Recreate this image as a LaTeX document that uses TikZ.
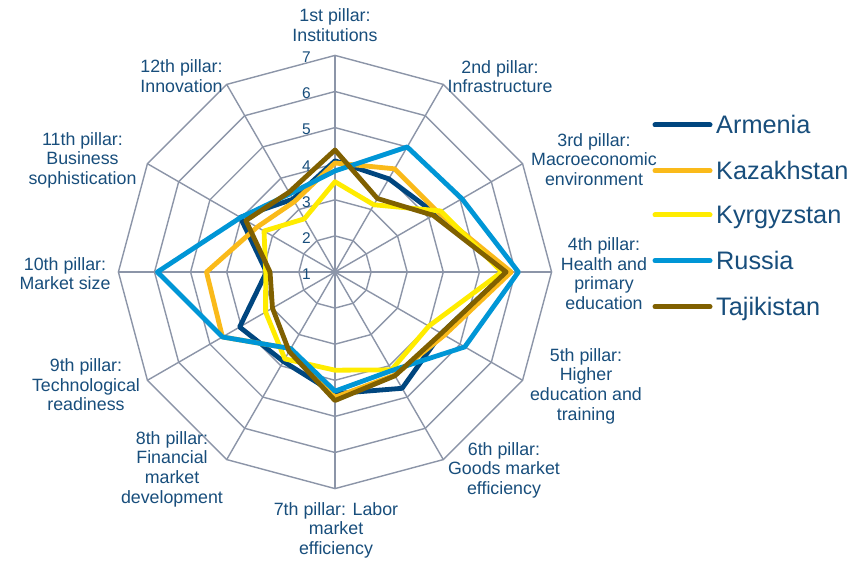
\documentclass[tikz,border=0pt]{standalone}
\usepackage{fontspec}
\setmainfont{Liberation Sans}
\definecolor{gridc}{RGB}{140,149,168}
\definecolor{txt}{RGB}{24,78,124}
\definecolor{armc}{RGB}{0,70,127}
\definecolor{kazc}{RGB}{250,186,26}
\definecolor{kyrc}{RGB}{255,236,0}
\definecolor{rusc}{RGB}{0,150,214}
\definecolor{tajc}{RGB}{128,96,0}
\tikzset{
  gridline/.style={draw=gridc, line width=1.4pt},
  series/.style={line width=4.8pt, line join=round, line cap=round},
  axlab/.style={text=txt, align=center, inner sep=0pt, font=\fontsize{17.8}{19.6}\selectfont},
  numlab/.style={text=txt, inner sep=0pt, font=\fontsize{15.5}{18}\selectfont, anchor=east},
  legtext/.style={text=txt, inner sep=0pt, font=\fontsize{25.3}{28}\selectfont, anchor=base west},
  legline/.style={line width=5pt, line cap=round},
}
\newcommand\radarplot[3]{%
  \foreach \v [count=\i from 0] in {#3}{%
    \coordinate (#1\i) at ({sin(\i*30)*(\v-1)*36.1},{-cos(\i*30)*(\v-1)*36.1});
  }
  \draw[series,#2] (#10) \foreach \i in {1,...,11}{ -- (#1\i)} -- cycle;
}
\begin{document}
\begin{tikzpicture}[x=1pt,y=-1pt]
\useasboundingbox (0,0) rectangle (864,561);
\fill[white] (0,0) rectangle (864,561);
\begin{scope}[shift={(335,272)}]
  % grid rings
  \foreach \r in {1,...,6}{
    \draw[gridline] (0,{-\r*36.1}) \foreach \k in {1,...,11}{ -- ({sin(\k*30)*\r*36.1},{-cos(\k*30)*\r*36.1}) } -- cycle;
  }
  % spokes
  \coordinate (ctr) at (0,0);
  \foreach \k in {0,...,11}{
    \coordinate (sp\k) at ({sin(\k*30)*216.6},{-cos(\k*30)*216.6});
    \draw[gridline] (ctr) -- (sp\k);
  }
  % series
  \radarplot{arm}{armc}{4.08,3.98,4.22,5.75,4.4,4.72,4.37,3.86,4.05,2.9,4.03,3.33}
  \radarplot{kaz}{kazc}{4.02,4.3,4.3,5.88,4.5,4.3,4.47,3.45,4.6,4.56,3.49,3.25}
  \radarplot{kyr}{kyrc}{3.5,3.15,4.38,5.62,4.0,4.13,3.72,3.78,3.22,2.92,3.27,2.7}
  \radarplot{rus}{rusc}{3.8,5.0,5.06,6.08,5.15,4.15,4.3,3.45,4.6,5.92,4.02,3.5}
  \radarplot{taj}{tajc}{4.38,3.35,4.14,5.74,4.4,4.32,4.56,3.54,3.0,2.8,3.85,3.55}
  % value labels
  \foreach \n in {1,...,7}{
    \node[numlab] (num\n) at (-24,{-(\n-1)*36.1+2}) {\n};
  }
\end{scope}
% axis labels
\node[axlab] (p1) at (335,25) {1st pillar:\\Institutions};
\node[axlab] (p2) at (500,76.5) {2nd pillar:\\Infrastructure};
\node[axlab] (p3) at (594,159.5) {3rd pillar:\\Macroeconomic\\environment};
\node[axlab] (p4) at (604,273.5) {4th pillar:\\Health and\\primary\\education};
\node[axlab] (p5) at (586,386) {5th pillar:\\Higher\\education and\\training};
\node[axlab] (p6) at (504,470) {6th pillar:\\Goods market\\efficiency};
\node[axlab] (p7) at (336,530) {7th pillar: Labor\\market\\efficiency};
\node[axlab] (p8) at (172,469) {8th pillar:\\Financial\\market\\development};
\node[axlab] (p9) at (86,385) {9th pillar:\\Technological\\readiness};
\node[axlab] (p10) at (65,273.5) {10th pillar:\\Market size};
\node[axlab] (p11) at (82.5,160) {11th pillar:\\Business\\sophistication};
\node[axlab] (p12) at (181.5,76) {12th pillar:\\Innovation};
% legend
\node[legtext] (lArm) at (716,134) {Armenia};
\node[legtext] (lKaz) at (716,179.7) {Kazakhstan};
\node[legtext] (lKyr) at (716,224) {Kyrgyzstan};
\node[legtext] (lRus) at (716,269.7) {Russia};
\node[legtext] (lTaj) at (716,315.7) {Tajikistan};
\draw[legline,armc] (655,125) -- (710,125);
\draw[legline,kazc] (655,170.7) -- (710,170.7);
\draw[legline,kyrc] (655,215) -- (710,215);
\draw[legline,rusc] (655,260.7) -- (710,260.7);
\draw[legline,tajc] (655,306.7) -- (710,306.7);
\end{tikzpicture}
\end{document}
